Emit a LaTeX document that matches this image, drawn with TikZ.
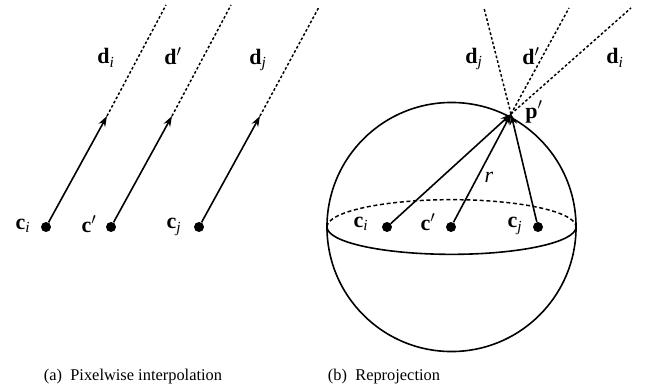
\documentclass[tikz,border=0pt]{standalone}
\usepackage{fontspec}
\setmainfont{Liberation Serif}
\usetikzlibrary{arrows.meta}

\newcommand{\vsub}[2]{\textbf{#1}\textsubscript{\itshape #2}}
\newcommand{\vprime}[1]{\textbf{#1}$'$}

\begin{document}
\begin{tikzpicture}[x=0.75pt,y=-0.75pt,
    dot/.style={circle,fill=black,inner sep=0pt,minimum size=7.5pt},
    vec/.style={line width=1.2pt,-{Stealth[length=8pt,width=5.5pt]}},
    ray/.style={line width=1.1pt,dash pattern=on 2pt off 1.6pt},
    lab/.style={font=\fontsize{16.5}{18}\selectfont},
    captext/.style={font=\fontsize{12.3}{14}\selectfont}]
    \useasboundingbox (0,0) rectangle (649,389);

    % (a) parallel rays
    \node[dot] (ci) at (46,227) {};
    \node[dot] (cp) at (111,227) {};
    \node[dot] (cj) at (199,227) {};
    \coordinate (ti) at (107,116);
    \coordinate (tp) at (172,116);
    \coordinate (tj) at (260,116);
    \coordinate (ei) at (166,5);
    \coordinate (ep) at (231,5);
    \coordinate (ej) at (319,7);
    \draw[vec] (ci) -- (ti);
    \draw[vec] (cp) -- (tp);
    \draw[vec] (cj) -- (tj);
    \draw[ray] (ti) -- (ei);
    \draw[ray] (tp) -- (ep);
    \draw[ray] (tj) -- (ej);

    \node[lab] (lci) at (23,226) {\vsub{c}{i}};
    \node[lab] (lcp) at (89,224) {\vprime{c}};
    \node[lab] (lcj) at (174,227) {\vsub{c}{j}};
    \node[lab] (ldi) at (106,58) {\vsub{d}{i}};
    \node[lab] (ldp) at (173,56) {\vprime{d}};
    \node[lab] (ldj) at (258,60) {\vsub{d}{j}};

    % (b) sphere
    \draw[line width=1.2pt] (451.5,227) circle[radius=93.4pt];
    \draw[line width=1.1pt,dash pattern=on 3pt off 2pt] (327,227) arc[start angle=180,end angle=0,x radius=93.4pt,y radius=20.5pt];
    \draw[line width=1.2pt] (327,227) arc[start angle=180,end angle=360,x radius=93.4pt,y radius=20.5pt];

    \node[dot] (rci) at (387,227) {};
    \node[dot] (rcp) at (451,227) {};
    \node[dot] (rcj) at (538,227) {};
    \coordinate (p) at (511,114);
    \coordinate (fi) at (631,8);
    \coordinate (fp) at (569,8);
    \coordinate (fj) at (484,8);
    \draw[vec] (rci) -- (p);
    \draw[vec] (rcp) -- (p);
    \draw[vec] (rcj) -- (p);
    \draw[ray] (p) -- (fi);
    \draw[ray] (p) -- (fp);
    \draw[ray] (p) -- (fj);

    \node[lab] (lrci) at (361,224) {\vsub{c}{i}};
    \node[lab] (lrcp) at (428,222) {\vprime{c}};
    \node[lab] (lrcj) at (515,226) {\vsub{c}{j}};
    \node[lab] (lr) at (489,177) {\textit{r}};
    \node[lab] (lp) at (534,112) {\vprime{p}};
    \node[lab] (lrdj) at (474,59) {\vsub{d}{j}};
    \node[lab] (lrdp) at (531,56) {\vprime{d}};
    \node[lab] (lrdi) at (615,58) {\vsub{d}{i}};

    % captions
    \node[captext] (capa) at (133,377) {(a)\enspace Pixelwise interpolation};
    \node[captext] (capb) at (384,377) {(b)\enspace Reprojection};
\end{tikzpicture}
\end{document}
